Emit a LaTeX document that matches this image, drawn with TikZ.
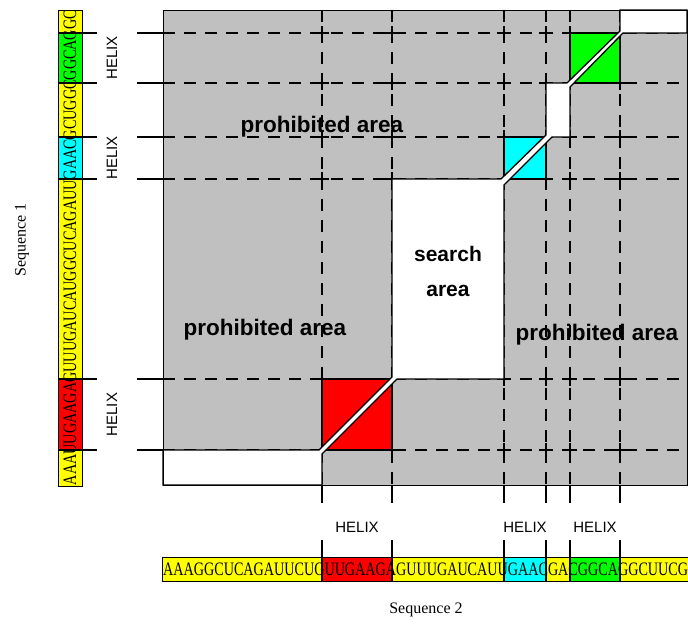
\documentclass[tikz,border=0pt]{standalone}
\usepackage{graphicx}
\usepackage{fontspec}
\setmainfont{Liberation Serif}
\setsansfont{Liberation Sans}
\usepackage{tikz}

\definecolor{areagray}{RGB}{192,192,192}
\definecolor{helixred}{RGB}{255,0,0}
\definecolor{helixcyan}{RGB}{0,255,255}
\definecolor{helixgreen}{RGB}{0,255,0}
\definecolor{helixyellow}{RGB}{255,255,0}

\begin{document}
\begin{tikzpicture}[
    x = 1pt, y = -1pt,
    %
    gridline/.style = {line width = 1.3pt,
      dash pattern = on 12pt off 9pt},
    edgeline/.style = {line width = 1.3pt},
    tickline/.style = {line width = 1.3pt},
    %
    helixtext/.style = {font = \fontsize{15}{15}\selectfont\sffamily},
    areatext/.style = {font = \fontsize{22.5}{35}\selectfont\sffamily\bfseries,
      align = center},
    searchtext/.style = {font = \fontsize{21}{35}\selectfont\sffamily\bfseries,
      align = center},
    seqtext/.style = {font = \fontsize{19}{19}\selectfont,
      inner sep = 0pt},
    seqlabel/.style = {font = \fontsize{16}{16}\selectfont},
    ]

    \useasboundingbox (0, 0) rectangle (688, 624);

    % dot plot
    \fill [areagray] (163, 10) rectangle (687, 485);

    \foreach \x in {322, 392, 504, 546, 570, 620}
      \draw [gridline] (\x, 10) -- (\x, 485);
    \foreach \y in {33, 83, 137, 179, 379, 450}
      \draw [gridline] (163, \y) -- (687, \y);

    \foreach \x in {322, 392, 504, 546, 570, 620}
      \foreach \y in {33, 83, 137, 179, 379, 450}
        \draw [edgeline] (\x-7, \y) -- (\x+7, \y) (\x, \y-7) -- (\x, \y+7);

    \draw [edgeline, fill = helixred] (322, 379) rectangle (392, 450);
    \draw [edgeline, fill = helixcyan] (504, 137) rectangle (546, 179);
    \draw [edgeline, fill = helixgreen] (570, 33) rectangle (620, 83);

    % allowed path
    \draw [edgeline, fill = white]
      (163, 485) -- (163, 450) -- (319, 450) -- (392, 377) -- (392, 179)
      -- (501, 179) -- (546, 135) -- (546, 83) -- (567, 83) -- (620, 31)
      -- (620, 10) -- (687, 10) -- (687, 33) -- (623, 33) -- (570, 87)
      -- (570, 137) -- (552, 137) -- (504, 185) -- (504, 379) -- (397, 379)
      -- (322, 454) -- (322, 485) -- cycle;

    \draw [line width = 1pt] (163, 10) rectangle (687, 485);

    \node at (322, 127) [areatext, name = area_top] {prohibited area};
    \node at (265, 330) [areatext, name = area_left] {prohibited area};
    \node at (597, 335) [areatext, name = area_right] {prohibited area};
    \node at (448, 271) [searchtext, name = search_area] {search\\area};

    % sequence 1
    \foreach \ya/\yb/\c in {10/33/helixyellow, 33/83/helixgreen,
        83/137/helixyellow, 137/179/helixcyan, 179/379/helixyellow,
        379/450/helixred, 450/486/helixyellow}
      \fill [\c] (58, \ya) rectangle (82, \yb);
    \foreach \y in {33, 83, 137, 179, 379, 450} {
      \draw [tickline] (58, \y) -- (97, \y);
      \draw [tickline] (137, \y) -- (163, \y);
    }
    \node at (70, 247.5) [seqtext, rotate = 90, name = seq_one]
    {\resizebox{475pt}{\height}{AAAUUGAAGAGUUUGAUCAUGGCUCAGAUUGAACGCUGGCGGCAGGC}};
    \draw [line width = 1pt] (58, 10) rectangle (82, 486);

    \node at (112, 58) [helixtext, rotate = 90, name = helix_v1] {HELIX};
    \node at (112, 158) [helixtext, rotate = 90, name = helix_v2] {HELIX};
    \node at (112, 414.5) [helixtext, rotate = 90, name = helix_v3] {HELIX};

    % sequence 2
    \foreach \xa/\xb/\c in {162/322/helixyellow, 322/392/helixred,
        392/504/helixyellow, 504/546/helixcyan, 546/570/helixyellow,
        570/620/helixgreen, 620/688/helixyellow}
      \fill [\c] (\xa, 557) rectangle (\xb, 581);
    \foreach \x in {322, 392, 504, 546, 570, 620} {
      \draw [tickline] (\x, 485) -- (\x, 503);
      \draw [tickline] (\x, 540) -- (\x, 581);
    }
    \node at (163, 569) [seqtext, anchor = west, name = seq_two]
    {\resizebox{525pt}{\height}{AAAGGCUCAGAUUCUGUUGAAGAGUUUGAUCAUUGAACGACGGCAGGCUUCG}};
    \draw [line width = 1pt] (690, 557) -- (162, 557) -- (162, 581) -- (690, 581);

    \node at (357, 527) [helixtext, name = helix_h1] {HELIX};
    \node at (525, 527) [helixtext, name = helix_h2] {HELIX};
    \node at (595, 527) [helixtext, name = helix_h3] {HELIX};

    \node at (22, 240) [seqlabel, rotate = 90, name = seq_one_label] {Sequence 1};
    \node at (426, 610) [seqlabel, name = seq_two_label] {Sequence 2};

  \end{tikzpicture}
\end{document}
